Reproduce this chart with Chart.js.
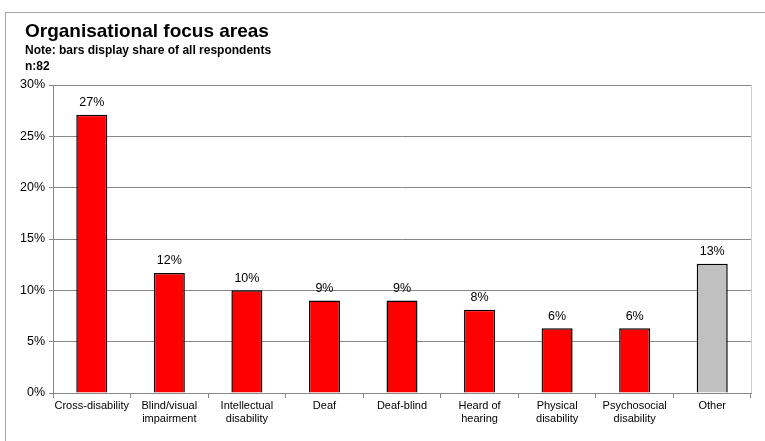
<!DOCTYPE html>
<html>
<head>
<meta charset="utf-8">
<script src="https://cdn.jsdelivr.net/npm/chart.js@4.4.1/dist/chart.umd.min.js"></script>
<style>
  html, body { margin: 0; padding: 0; background: #fff; }
  .wrap { position: relative; width: 765px; height: 441px; overflow: hidden; font-family: "Liberation Sans", Arial, sans-serif; }
  .frame { position: absolute; left: 5px; top: 12px; width: 800px; height: 500px; border-left: 1px solid #a6a6a6; border-top: 1px solid #a6a6a6; }
  canvas { position: absolute; left: 0; top: 0; }
  .title { position: absolute; left: 25px; top: 20px; font-size: 19px; font-weight: bold; color: #000; }
  .sub { position: absolute; left: 25px; top: 42px; font-size: 12px; font-weight: bold; color: #000; line-height: 16px; }
</style>
</head>
<body>
<div class="wrap">
  <div class="frame"></div>
  <canvas id="chartFocus" width="765" height="441"></canvas>
  <div class="title">Organisational focus areas</div>
  <div class="sub">Note: bars display share of all respondents<br>n:82</div>
</div>
<script>
const categories = [
    'Cross-disability', ['Blind/visual', 'impairment'], ['Intellectual', 'disability'], 'Deaf',
    'Deaf-blind', ['Heard of', 'hearing'], ['Physical', 'disability'], ['Psychosocial', 'disability'], 'Other'
];
const shares = [27.1, 11.7, 10.0, 9.0, 9.0, 8.1, 6.3, 6.3, 12.6];
const barColors = ['#ff0000', '#ff0000', '#ff0000', '#ff0000', '#ff0000', '#ff0000', '#ff0000', '#ff0000', '#c0c0c0'];
const yTicks = [0, 5, 10, 15, 20, 25, 30];

// étiquettes au-dessus des barres
const valueLabels = {
    id: 'valueLabels',
    afterDatasetsDraw(chart) {
        const c = chart.ctx;
        const meta = chart.getDatasetMeta(0);
        c.save();
        c.font = '12.5px "Liberation Sans", Arial, sans-serif';
        c.fillStyle = '#000';
        c.textAlign = 'center';
        c.textBaseline = 'bottom';
        meta.data.forEach((bar, i) => {
            c.fillText(Math.round(shares[i]) + '%', bar.x, bar.y - 6);
        });
        c.restore();
    }
};

// bord droit de la zone de tracé
const plotBorder = {
    id: 'plotBorder',
    beforeDatasetsDraw(chart) {
        const a = chart.chartArea;
        const c = chart.ctx;
        c.save();
        c.strokeStyle = '#cfcfcf';
        c.lineWidth = 1;
        c.beginPath();
        c.moveTo(a.right + 0.5, a.top);
        c.lineTo(a.right + 0.5, a.bottom);
        c.stroke();
        c.restore();
    }
};

const ctx = document.getElementById('chartFocus').getContext('2d');

const chart = new Chart(ctx, {
    type: 'bar',
    data: {
        labels: categories,
        datasets: [{
            data: shares,
            backgroundColor: barColors,
            borderColor: '#000',
            borderWidth: 1.5,
            barPercentage: 0.4,
            categoryPercentage: 1
        }]
    },
    options: {
        responsive: false,
        animation: false,
        layout: {
            padding: { left: 0, right: 14, top: 85, bottom: 0 }
        },
        plugins: {
            legend: { display: false },
            tooltip: { enabled: false }
        },
        scales: {
            y: {
                min: 0,
                max: 30,
                afterFit: function (scale) { scale.width = 53; },
                afterBuildTicks: function (scale) {
                    scale.ticks = yTicks.map(v => ({ value: v }));
                },
                grid: { color: '#878787', tickLength: 4 },
                border: { color: '#878787' },
                ticks: {
                    color: '#000',
                    padding: 4,
                    font: { family: '"Liberation Sans", Arial, sans-serif', size: 12.5 },
                    callback: function (value) { return value + '%'; }
                }
            },
            x: {
                afterFit: function (scale) { scale.height = 48; },
                grid: { drawOnChartArea: false, color: '#878787', tickLength: 5 },
                border: { color: '#878787' },
                ticks: {
                    color: '#000',
                    autoSkip: false,
                    maxRotation: 0,
                    padding: 2,
                    font: { family: '"Liberation Sans", Arial, sans-serif', size: 11, lineHeight: 1.15 }
                }
            }
        }
    },
    plugins: [valueLabels, plotBorder]
});
</script>
</body>
</html>
